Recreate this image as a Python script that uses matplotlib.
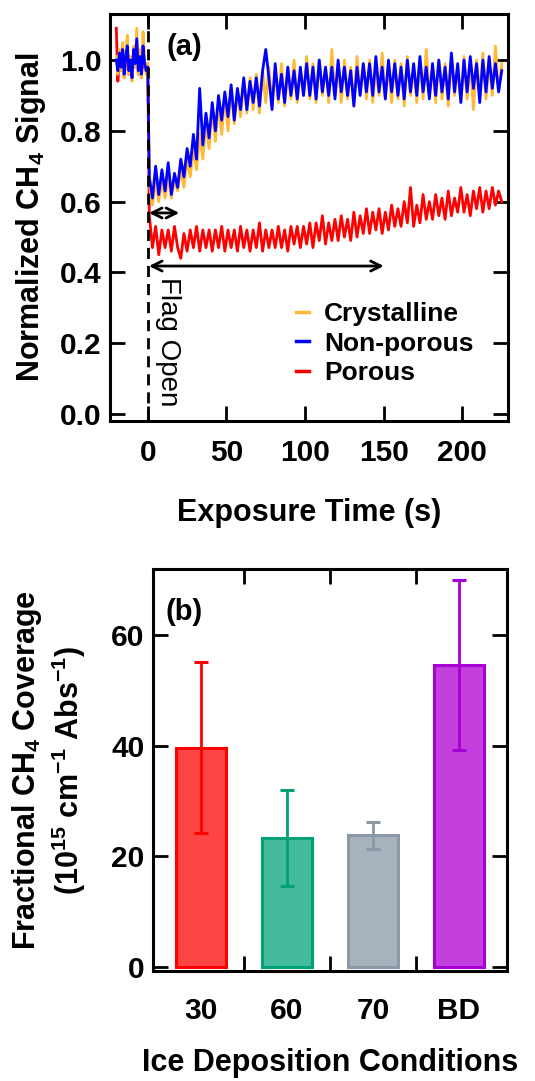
import numpy as np
import matplotlib
matplotlib.use("Agg")
import matplotlib.pyplot as plt

plt.rcParams["font.family"] = ["Liberation Sans", "DejaVu Sans"]
plt.rcParams["font.weight"] = "bold"
plt.rcParams["mathtext.fontset"] = "custom"
plt.rcParams["mathtext.rm"] = "Liberation Sans:bold"
plt.rcParams["mathtext.bf"] = "Liberation Sans:bold"
plt.rcParams["mathtext.default"] = "bf"

# ---------------- panel (a) data ----------------
# pre-flag samples every 1 s (-20..0), post-flag samples every 2 s (1..225)
t_pre = np.arange(-20, 1, 1)
t_post = np.arange(1, 226, 2)
time_s = np.concatenate([t_pre, t_post])

cryst_pre = [1.01, 0.96, 1.03, 0.97, 1.05, 0.95, 1.02, 1.07, 0.96, 1.01,
             0.94, 1.04, 0.98, 1.09, 0.96, 1.03, 0.95, 1.08, 0.99, 0.96, 0.99]
cryst_post = [0.65, 0.59, 0.66, 0.60, 0.66, 0.61, 0.67, 0.61, 0.66, 0.63,
              0.69, 0.64, 0.72, 0.67, 0.75, 0.69, 0.79, 0.72, 0.82, 0.75,
              0.86, 0.77, 0.88, 0.79, 0.90, 0.80, 0.92, 0.82, 0.91, 0.84,
              0.94, 0.85, 0.95, 0.86, 0.96, 0.85, 0.97, 0.88, 0.98, 0.87,
              0.97, 0.88, 0.99, 0.87, 0.98, 0.89, 1.00, 0.88, 0.97, 0.90,
              1.01, 0.89, 0.99, 0.88, 1.00, 0.90, 0.98, 0.88, 1.03, 0.90,
              0.99, 0.88, 1.00, 0.89, 0.98, 0.87, 1.01, 0.90, 0.99, 0.89,
              1.00, 0.88, 0.98, 0.90, 1.02, 0.89, 0.99, 0.88, 1.00, 0.89,
              0.99, 0.87, 1.01, 0.90, 0.98, 0.88, 1.00, 0.89, 1.03, 0.90,
              0.98, 0.88, 1.00, 0.89, 0.99, 0.87, 1.01, 0.90, 0.98, 0.88,
              1.01, 0.89, 0.99, 0.86, 1.00, 0.90, 1.02, 0.89, 0.99, 0.90,
              1.04, 0.91, 0.99]

nonpor_pre = [1.00, 0.97, 1.02, 0.98, 1.03, 0.96, 1.01, 1.04, 0.97, 1.00,
              0.95, 1.03, 0.99, 1.06, 0.97, 1.01, 0.96, 1.04, 0.99, 0.97, 0.98]
nonpor_post = [0.67, 0.61, 0.70, 0.62, 0.69, 0.63, 0.71, 0.62, 0.68, 0.64,
               0.72, 0.67, 0.75, 0.70, 0.79, 0.72, 0.92, 0.76, 0.85, 0.78,
               0.88, 0.80, 0.90, 0.83, 0.91, 0.84, 0.93, 0.83, 0.92, 0.86,
               0.95, 0.86, 0.94, 0.88, 0.95, 0.87, 0.97, 1.03, 0.95, 0.86,
               0.99, 0.89, 0.96, 0.88, 0.98, 0.90, 0.97, 0.89, 0.98, 0.90,
               0.99, 0.90, 0.98, 0.89, 1.00, 0.91, 0.98, 0.90, 0.98, 0.89,
               1.00, 0.91, 0.98, 0.90, 0.97, 0.87, 0.98, 0.90, 0.99, 0.91,
               0.99, 0.90, 1.01, 0.91, 0.98, 0.89, 1.00, 0.91, 0.99, 0.90,
               0.98, 0.89, 1.00, 0.91, 0.99, 0.90, 1.01, 0.91, 0.98, 0.89,
               0.99, 0.90, 1.00, 0.91, 0.98, 0.89, 1.02, 0.91, 0.99, 0.88,
               1.00, 0.91, 1.01, 0.92, 0.99, 0.88, 1.00, 0.91, 1.01, 0.92,
               0.99, 0.91, 0.97]

porous_pre = [1.09, 0.94, 1.01, 0.97, 1.02, 0.95, 1.00, 1.03, 0.96, 0.99,
              0.95, 1.02, 0.98, 1.05, 0.96, 1.00, 0.95, 1.03, 0.98, 0.97, 0.99]
porous_post = [0.56, 0.47, 0.53, 0.45, 0.52, 0.47, 0.52, 0.46, 0.53, 0.47,
               0.44, 0.51, 0.46, 0.52, 0.47, 0.53, 0.46, 0.52, 0.47, 0.52,
               0.46, 0.52, 0.47, 0.53, 0.46, 0.52, 0.47, 0.52, 0.46, 0.53,
               0.47, 0.52, 0.46, 0.52, 0.47, 0.54, 0.46, 0.52, 0.47, 0.52,
               0.47, 0.53, 0.47, 0.52, 0.46, 0.53, 0.48, 0.53, 0.47, 0.53,
               0.48, 0.54, 0.47, 0.54, 0.49, 0.56, 0.48, 0.54, 0.49, 0.55,
               0.49, 0.56, 0.50, 0.55, 0.49, 0.57, 0.50, 0.56, 0.51, 0.58,
               0.51, 0.57, 0.52, 0.58, 0.51, 0.57, 0.52, 0.59, 0.53, 0.58,
               0.53, 0.60, 0.54, 0.64, 0.53, 0.59, 0.54, 0.62, 0.55, 0.60,
               0.55, 0.62, 0.56, 0.61, 0.55, 0.63, 0.56, 0.61, 0.57, 0.64,
               0.57, 0.62, 0.56, 0.63, 0.58, 0.64, 0.57, 0.63, 0.58, 0.64,
               0.59, 0.63, 0.60]

# ---------------- panel (b) data ----------------
conditions = ["30", "60", "70", "BD"]
coverage = [39.7, 23.3, 23.8, 54.6]
coverage_err = [15.5, 8.7, 2.5, 15.4]
bar_fill = ["#FF4444", "#44BB9A", "#A8B2BC", "#C23FDE"]
bar_edge = ["#FF0000", "#00A078", "#8A98A8", "#A800D2"]

fig = plt.figure(figsize=(5.35, 10.81), dpi=100)

# ---------------- (a) ----------------
ax1 = fig.add_axes([0.2056, 0.6105, 0.744, 0.3765])
ax1.plot(time_s, porous_pre + porous_post, color="#FF0000", lw=2, label="Porous")
ax1.plot(time_s, cryst_pre + cryst_post, color="#FFB838", lw=2, label="Crystalline")
ax1.plot(time_s, nonpor_pre + nonpor_post, color="#0000FF", lw=2, label="Non-porous")
ax1.axvline(0, color="k", lw=2, ls=(0, (4, 2.5)))

arrow_kw = dict(arrowstyle="<->", lw=2, color="k", mutation_scale=18, shrinkA=0, shrinkB=0)
ax1.annotate("", xy=(20, 0.568), xytext=(0.8, 0.568), arrowprops=arrow_kw)
ax1.annotate("", xy=(150, 0.418), xytext=(0.8, 0.418), arrowprops=arrow_kw)
ax1.text(13, 0.205, "Flag Open", rotation=-90, ha="center", va="center",
         fontsize=20, fontweight="normal")
ax1.text(12, 1.037, "(a)", ha="left", va="center", fontsize=21)

ax1.set_xlim(-24, 229)
ax1.set_ylim(-0.02, 1.13)
ax1.set_xticks([0, 50, 100, 150, 200])
ax1.set_yticks([0.0, 0.2, 0.4, 0.6, 0.8, 1.0])
ax1.set_yticklabels(["0.0", "0.2", "0.4", "0.6", "0.8", "1.0"])
ax1.tick_params(direction="in", length=11, width=2, top=True, right=True,
                labelsize=21.5)
ax1.tick_params(axis="x", pad=13)
ax1.tick_params(axis="y", pad=6)
for s in ax1.spines.values():
    s.set_linewidth(2.2)

h, l = ax1.get_legend_handles_labels()
order = [1, 2, 0]
leg = ax1.legend([h[i] for i in order], [l[i] for i in order],
                 loc="upper left", bbox_to_anchor=(0.468, 0.293), frameon=False,
                 fontsize=19, handlelength=0.5, handletextpad=0.55,
                 labelspacing=0.22, borderpad=0, borderaxespad=0)
for line in leg.get_lines():
    line.set_linewidth(2.5)

fig.text(0.058, 0.799, "Normalized CH$_4$ Signal", rotation=90,
         ha="center", va="center", fontsize=22)
fig.text(0.578, 0.5254, "Exposure Time (s)", ha="center", va="center", fontsize=22)

# ---------------- (b) ----------------
ax2 = fig.add_axes([0.286, 0.1018, 0.6617, 0.3719])
pos = np.arange(len(conditions))
ax2.bar(pos, coverage, width=0.59, color=bar_fill, edgecolor=bar_edge, linewidth=2.2)
for i in range(len(conditions)):
    ax2.errorbar(pos[i], coverage[i], yerr=coverage_err[i], color=bar_edge[i],
                 lw=2, capsize=5, capthick=2.2)
ax2.text(-0.42, 64.3, "(b)", ha="left", va="center", fontsize=21)

ax2.set_xlim(-0.56, 3.56)
ax2.set_ylim(-0.7, 72)
ax2.set_xticks(pos)
ax2.set_xticklabels(conditions)
ax2.set_xticks([0.5, 1.5, 2.5], minor=True)
ax2.set_yticks([0, 20, 40, 60])
ax2.tick_params(axis="x", which="major", length=0, labelsize=21.5, pad=19)
ax2.tick_params(axis="x", which="minor", direction="in", length=11, width=2,
                top=True, bottom=True)
ax2.tick_params(axis="y", direction="in", length=11, width=2, left=True,
                right=True, labelsize=21.5, pad=6)
for s in ax2.spines.values():
    s.set_linewidth(2.2)

fig.text(0.05, 0.2877, "Fractional CH$_4$ Coverage", rotation=90,
         ha="center", va="center", fontsize=22)
fig.text(0.129, 0.2877, "(10$^{15}$ cm$^{-1}$ Abs$^{-1}$)", rotation=90,
         ha="center", va="center", fontsize=22)
fig.text(0.617, 0.0167, "Ice Deposition Conditions", ha="center", va="center",
         fontsize=22)

fig.savefig("out.png", dpi=100)
